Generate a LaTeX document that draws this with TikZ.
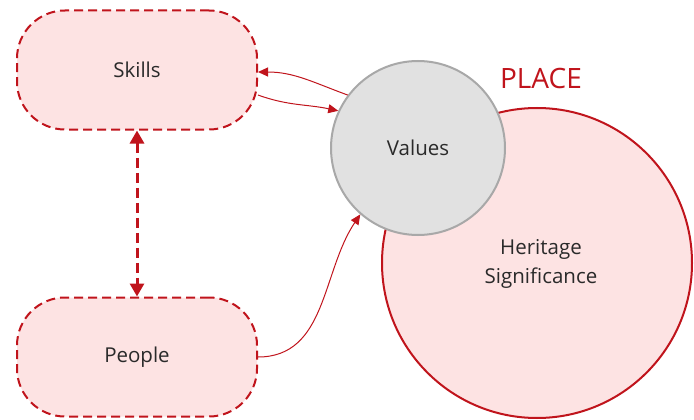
\documentclass[tikz,border=0pt]{standalone}
\usepackage{fontspec}
\setmainfont{Open Sans}
\usetikzlibrary{arrows.meta}
\definecolor{dred}{HTML}{C0141C}
\definecolor{pinkfill}{HTML}{FDE3E3}
\definecolor{grayfill}{HTML}{E1E1E1}
\definecolor{grayline}{HTML}{A8A8A8}
\definecolor{txt}{HTML}{2A2A2A}
\tikzset{
  pillbox/.style={draw=dred, fill=pinkfill, line width=2pt, dash pattern=on 9pt off 5pt,
    rounded corners=48pt, minimum width=240pt, minimum height=119pt, text=txt, font=\fontsize{20.5}{24}\selectfont},
  thinarrow/.style={draw=dred, line width=1pt, -{Triangle[length=10pt,width=9pt]}},
}
\begin{document}
\begin{tikzpicture}[x=1pt,y=-1pt]
\useasboundingbox (0,0) rectangle (694,420);
% Heritage circle
\node[circle, draw=dred, fill=pinkfill, line width=2pt, minimum size=310pt, inner sep=0pt] (H) at (537,263) {};
\node[text=txt, align=center, font=\fontsize{20.5}{29}\selectfont] (HT) at (541,264) {Heritage\\Significance};
% Values circle
\node[circle, draw=grayline, fill=grayfill, line width=2pt, minimum size=174pt, inner sep=0pt, text=txt, font=\fontsize{20.5}{24}\selectfont] (V) at (418,148) {Values};
% PLACE
\node[text=dred, font=\fontsize{28}{31}\selectfont] (P) at (541,78) {PLACE};
% boxes
\node[pillbox] (S) at (137,70) {Skills};
\node[pillbox] (Pe) at (137,357) {People};
% connectors
\draw[thinarrow] (V.143) to[out=160,in=0] ([yshift=-2pt]S.east);
\draw[thinarrow] ([yshift=-25pt]S.east) to[out=-20,in=168] (V.155);
\draw[thinarrow] (Pe.east) to[out=0,in=236] (V.229);
\draw[draw=dred, line width=3pt, dash pattern=on 10pt off 5pt, {Triangle[length=13pt,width=14pt]}-{Triangle[length=13pt,width=14pt]}] (S.south) -- (Pe.north);
\end{tikzpicture}
\end{document}
